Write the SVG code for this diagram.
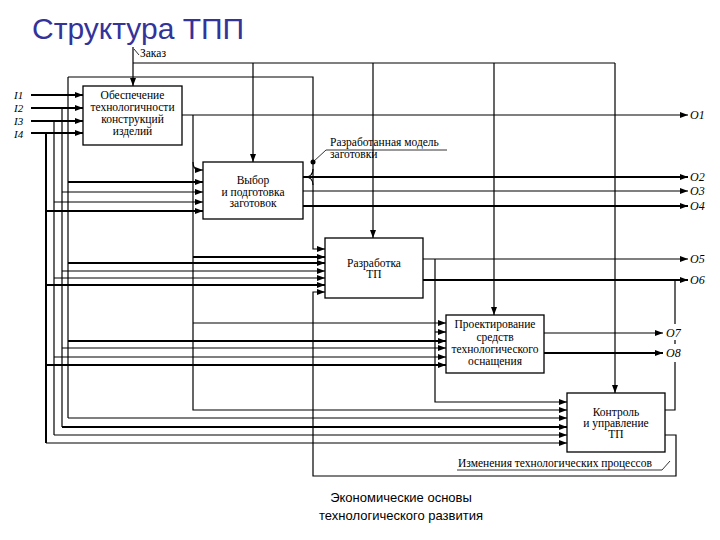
<svg xmlns="http://www.w3.org/2000/svg" width="720" height="540" viewBox="0 0 720 540">
<style>
.box{fill:#fff;stroke:#000;stroke-width:1.3}
.t{font-family:"Liberation Serif","Times New Roman",serif;font-size:11.5px;fill:#000;text-anchor:middle}
.lbl{font-family:"Liberation Serif","Times New Roman",serif;font-size:11.5px;fill:#000}
.io{font-family:"Liberation Serif","Times New Roman",serif;font-size:12px;font-style:italic;fill:#000}
.ii{font-family:"Liberation Serif","Times New Roman",serif;font-size:11px;font-style:italic;fill:#000}
.c{fill:none;stroke:#000;stroke-width:1.2}
.k{fill:none;stroke:#000;stroke-width:2}
.a{marker-end:url(#ah)}
.thin{fill:none;stroke:#000;stroke-width:0.8}
.title{font-family:"Liberation Sans",Arial,sans-serif;font-size:30px;fill:#33339a}
.foot{font-family:"Liberation Sans",Arial,sans-serif;font-size:13px;fill:#000;text-anchor:middle}
</style>
<defs>
<marker id="ah" viewBox="0 0 8 6" refX="8" refY="3" markerWidth="8" markerHeight="6" markerUnits="userSpaceOnUse" orient="auto"><path d="M0,0 L8,3 L0,6 z" fill="#000"/></marker>
</defs>
<rect width="720" height="540" fill="#fff"/>
<text class="title" x="32" y="39">Структура ТПП</text>

<g id="connectors">
<!-- control: Заказ -->
<path class="c a" d="M133,47 V86"/>
<path class="c" d="M133,63 H615"/>
<path class="c a" d="M253,63 V162"/>
<path class="c a" d="M373,63 V238"/>
<path class="c a" d="M494,63 V315"/>
<path class="c a" d="M615,63 V393"/>
<!-- inputs I1-I4 -->
<path class="k a" d="M31,95 H83"/>
<path class="k a" d="M31,108 H83"/>
<path class="k a" d="M31,121 H83"/>
<path class="k a" d="M31,133 H83"/>
<!-- left buses -->
<path class="c" d="M68,77 V418"/>
<path class="c" d="M62,108 V427"/>
<path class="c" d="M54,121 V435"/>
<path class="k" d="M46,133 V443"/>
<!-- top loop (model of blank) -->
<path class="c a" d="M68,77 H313 V249 H325"/>
<!-- x=68 branches -->
<path class="k a" d="M68,182 H203"/>
<path class="k a" d="M68,263 H325"/>
<path class="k a" d="M68,341 H446"/>
<path class="c a" d="M68,418 H567"/>
<!-- x=62 branches -->
<path class="c a" d="M62,192 H203"/>
<path class="c a" d="M62,271 H325"/>
<path class="c a" d="M62,348 H446"/>
<path class="k a" d="M62,427 H567"/>
<!-- x=54 branches -->
<path class="c a" d="M54,202 H203"/>
<path class="c a" d="M54,278 H325"/>
<path class="c a" d="M54,357 H446"/>
<path class="c a" d="M54,435 H567"/>
<!-- x=46 branches -->
<path class="k a" d="M46,211 H203"/>
<path class="k a" d="M46,285 H325"/>
<path class="k a" d="M46,365 H446"/>
<path class="c a" d="M46,443 H567"/>
<!-- box1 output O1 and branch -->
<path class="c a" d="M182,115 H688"/>
<path class="c a" d="M193,115 V410 H567"/>
<path class="c a" d="M193,162 Q193,170 199,170 H203"/>
<path class="k a" d="M193,257 H325"/>
<path class="c a" d="M193,323 H446"/>
<!-- box2 outputs -->
<path class="k a" d="M303,177 H688"/>
<path class="c a" d="M303,191 H688"/>
<path class="k a" d="M303,206 H688"/>
<path class="c" d="M313,169 Q313,177 305,177 M313,185 Q313,177 305,177"/>
<circle cx="313" cy="162" r="2.5" fill="#000"/>
<path class="thin" d="M313,162 L326,150 H447"/>
<!-- box3 outputs -->
<path class="c a" d="M423,259 H688"/>
<path class="k a" d="M423,280 H688"/>
<path class="c a" d="M435,259 V402 H567"/>
<path class="c a" d="M435,332 H446"/>
<!-- box4 outputs -->
<path class="c a" d="M544,333 H663"/>
<path class="k a" d="M544,353 H663"/>
<!-- box5 outputs -->
<path class="c" d="M665,410 H675 V362 M675,344 V340 M675,324 V280"/>
<path class="c a" d="M665,435 H676 V476 H313 V292 H325"/>
<path class="thin" d="M457,470 H662 L670,461"/>
<!-- Заказ leader -->
<path class="thin" d="M134,49 L139,55"/>
</g>

<g id="labels">
<text class="lbl" x="140" y="57">Заказ</text>
<text class="lbl" x="330" y="146">Разработанная модель</text>
<text class="lbl" x="330" y="158">заготовки</text>
<text class="lbl" x="458" y="467">Изменения технологических процессов</text>
<text class="ii" x="14" y="99">I1</text>
<text class="ii" x="14" y="112">I2</text>
<text class="ii" x="14" y="125">I3</text>
<text class="ii" x="14" y="138">I4</text>
<text class="io" x="690" y="119">O1</text>
<text class="io" x="690" y="181">O2</text>
<text class="io" x="690" y="195">O3</text>
<text class="io" x="690" y="210">O4</text>
<text class="io" x="690" y="263">O5</text>
<text class="io" x="690" y="284">O6</text>
<text class="io" x="666" y="337">O7</text>
<text class="io" x="666" y="357">O8</text>
</g>

<g id="n1">
<rect class="box" x="83" y="86" width="99" height="59"/>
<text class="t" x="132.5" y="99">Обеспечение</text>
<text class="t" x="132.5" y="111">технологичности</text>
<text class="t" x="132.5" y="123">конструкций</text>
<text class="t" x="132.5" y="135">изделий</text>
</g>
<g id="n2">
<rect class="box" x="203" y="162" width="100" height="57"/>
<text class="t" x="253" y="184">Выбор</text>
<text class="t" x="253" y="196">и подготовка</text>
<text class="t" x="253" y="207">заготовок</text>
</g>
<g id="n3">
<rect class="box" x="325" y="238" width="98" height="60"/>
<text class="t" x="374" y="267">Разработка</text>
<text class="t" x="374" y="278">ТП</text>
</g>
<g id="n4">
<rect class="box" x="446" y="315" width="98" height="58"/>
<text class="t" x="495" y="328">Проектирование</text>
<text class="t" x="495" y="341">средств</text>
<text class="t" x="495" y="353">технологического</text>
<text class="t" x="495" y="365">оснащения</text>
</g>
<g id="n5">
<rect class="box" x="567" y="393" width="98" height="59"/>
<text class="t" x="616" y="416">Контроль</text>
<text class="t" x="616" y="427">и управление</text>
<text class="t" x="616" y="438">ТП</text>
</g>

<text class="foot" x="401" y="502">Экономические основы</text>
<text class="foot" x="401" y="520">технологического развития</text>
</svg>
